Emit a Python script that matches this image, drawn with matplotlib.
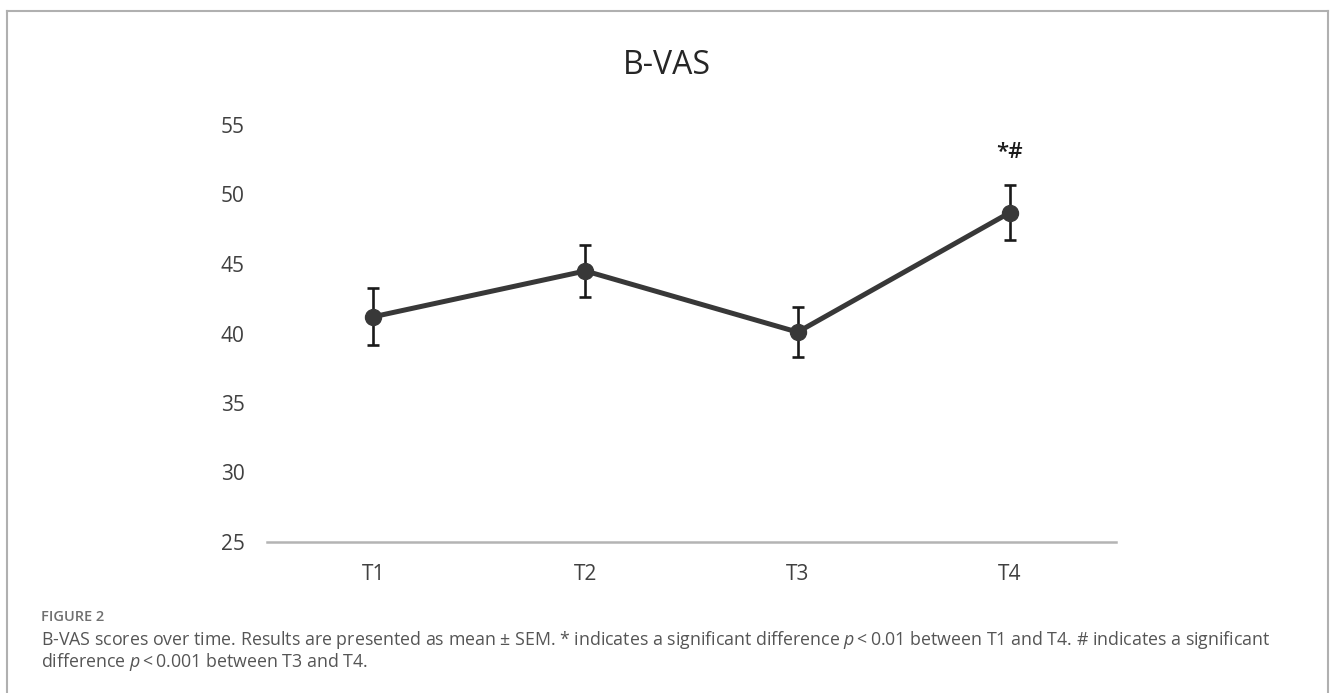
import matplotlib.pyplot as plt
from matplotlib.lines import Line2D

# data
timepoints = ["T1", "T2", "T3", "T4"]
bvas_mean = [41.2, 44.5, 40.1, 48.7]
bvas_sem = [2.05, 1.9, 1.8, 2.0]
sig_label = "*#"
sig_index = 3
sig_y = 53.0

yticks = [25, 30, 35, 40, 45, 50, 55]

caption_head = "FIGURE 2"
caption_1 = ("B-VAS scores over time. Results are presented as mean \u00b1 SEM. * indicates a significant "
             "difference $p$\u2009<\u20090.01 between T1 and T4. # indicates a significant")
caption_2 = "difference $p$\u2009<\u20090.001 between T3 and T4."


def main():
    plt.rcParams['font.family'] = ['Open Sans', 'DejaVu Sans']
    plt.rcParams['mathtext.fontset'] = 'custom'
    plt.rcParams['mathtext.it'] = 'Open Sans:italic'
    plt.rcParams['mathtext.rm'] = 'Open Sans'

    fig = plt.figure(figsize=(13.3, 6.93), dpi=100)
    W, H = 1330, 693
    ax = fig.add_axes([267 / W, 1 - 542 / H, 849 / W, (542 - 125) / H])

    x = list(range(len(timepoints)))
    ax.plot(x, bvas_mean, color="#383838", lw=3.6, marker="o", ms=11.5,
            solid_capstyle="round", zorder=3)
    ax.errorbar(x, bvas_mean, yerr=bvas_sem, fmt="none", ecolor="#1a1a1a",
                elinewidth=1.9, capsize=4.2, capthick=1.9, zorder=2)
    ax.text(x[sig_index], sig_y, sig_label, ha="center", va="center",
            fontsize=16, color="#1a1a1a", weight="semibold")

    ax.set_xlim(-0.5, len(timepoints) - 0.5)
    ax.set_ylim(25, 55)
    ax.set_yticks(yticks)
    ax.set_xticks(x)
    ax.set_xticklabels(timepoints)
    ax.tick_params(length=0, labelsize=15, labelcolor="#404040")
    ax.tick_params(axis="y", pad=16)
    ax.tick_params(axis="x", pad=16)
    for s in ["top", "right", "left"]:
        ax.spines[s].set_visible(False)
    ax.spines["bottom"].set_color("#b4b4b4")
    ax.spines["bottom"].set_linewidth(1.8)

    fig.text(667 / W, 1 - 65 / H, "B-VAS", ha="center", va="center",
             fontsize=23, color="#262626")

    # caption
    fig.text(41 / W, 1 - 617 / H, caption_head, ha="left", va="center",
             fontsize=10.5, color="#707070", weight="semibold")
    fig.text(41 / W, 1 - 640 / H, caption_1, ha="left", va="center",
             fontsize=12.8, color="#555555")
    fig.text(41 / W, 1 - 662 / H, caption_2, ha="left", va="center",
             fontsize=12.8, color="#555555")

    # frame around the figure panel
    bc = "#b0b0b0"
    fig.add_artist(Line2D([7 / W, 7 / W], [0, 1 - 11 / H], color=bc, lw=1.5))
    fig.add_artist(Line2D([1328 / W, 1328 / W], [0, 1 - 11 / H], color=bc, lw=1.5))
    fig.add_artist(Line2D([7 / W, 1328 / W], [1 - 11 / H, 1 - 11 / H], color=bc, lw=1.5))

    fig.savefig("out.png", dpi=100)


if __name__ == '__main__':
    main()
